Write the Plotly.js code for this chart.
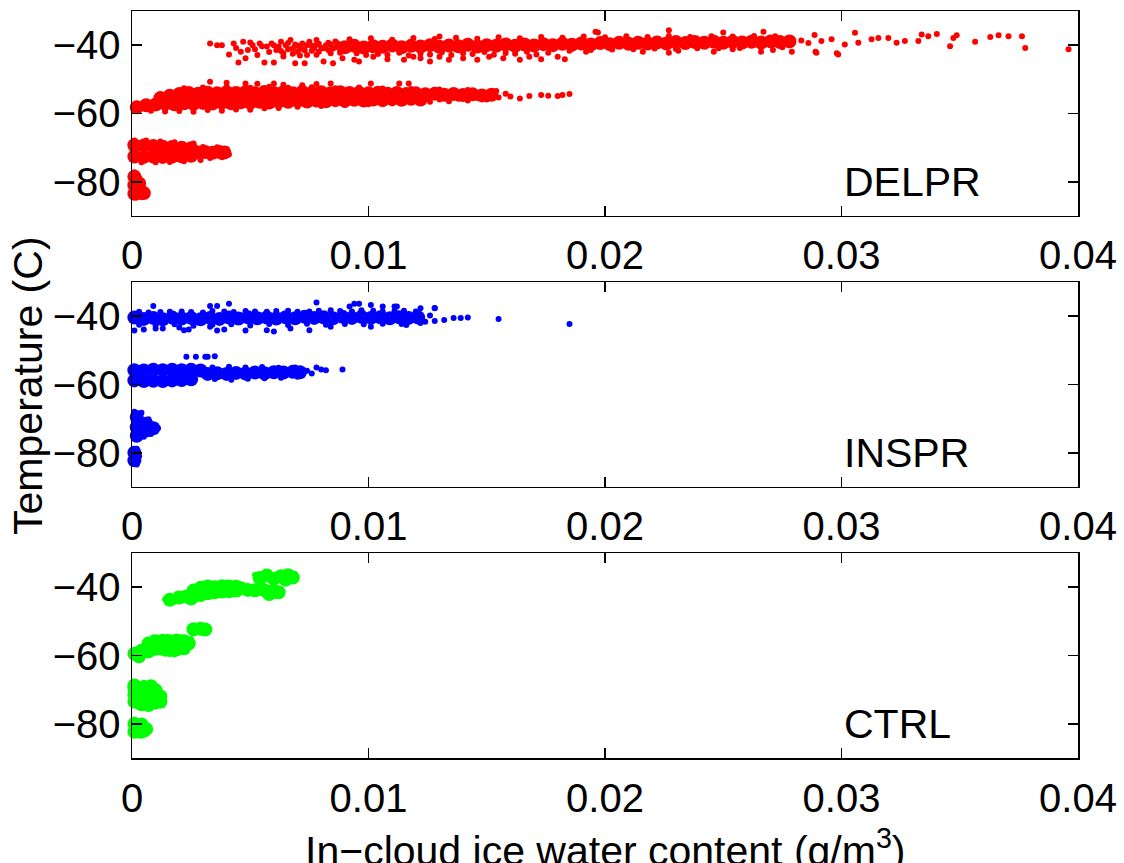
<!DOCTYPE html>
<html>
<head>
<meta charset="utf-8">
<script src="https://cdn.plot.ly/plotly-3.0.1.min.js"></script>
<style>html,body{margin:0;padding:0;background:#fff;}#chart{width:1124px;height:863px;}</style>
</head>
<body>
<div id="chart"></div>
<script>
// ---------- DATA (x = in-cloud IWC g/m3, y = temperature C) ----------
const panelNames = ["DELPR", "INSPR", "CTRL"];
const xTickVals = [0, 0.01, 0.02, 0.03, 0.04];
const yTickVals = [-80, -60, -40];

// DELPR dense cores
const delprCore = [
[0.0090,-40.6],[0.0094,-40.2],[0.0098,-40.7],[0.0102,-40.3],[0.0106,-40.5],[0.0110,-40.1],[0.0114,-40.6],[0.0118,-40.2],[0.0122,-40.4],[0.0126,-40.0],[0.0130,-40.5],[0.0134,-40.1],[0.0138,-40.3],[0.0142,-39.9],[0.0146,-40.4],[0.0150,-40.0],[0.0154,-40.2],[0.0158,-39.8],[0.0162,-40.2],[0.0166,-39.8],[0.0170,-40.1],[0.0174,-39.7],[0.0178,-40.0],[0.0182,-39.6],[0.0186,-39.9],[0.0190,-39.5],[0.0194,-39.8],[0.0198,-39.4],[0.0202,-39.7],[0.0206,-39.3],[0.0210,-39.6],[0.0214,-39.3],[0.0218,-39.5],[0.0222,-39.2],[0.0226,-39.5],[0.0230,-39.1],[0.0234,-39.4],[0.0238,-39.1],[0.0242,-39.3],[0.0246,-39.0],[0.0250,-39.3],[0.0254,-39.0],[0.0258,-39.2],[0.0262,-39.0],[0.0266,-39.2],[0.0270,-38.9],[0.0274,-39.1],[0.0278,-38.9],
[0.0012,-55.5],[0.0016,-54.8],[0.0020,-54.3],[0.0024,-54.0],[0.0028,-54.2],[0.0032,-53.9],[0.0036,-54.1],[0.0040,-53.8],[0.0044,-54.0],[0.0048,-53.8],[0.0052,-54.1],[0.0056,-53.7],[0.0060,-54.0],[0.0064,-53.8],[0.0068,-54.1],[0.0072,-53.7],[0.0076,-54.0],[0.0080,-53.8],[0.0084,-54.1],[0.0088,-53.8],[0.0092,-54.0],[0.0096,-53.9],[0.0100,-54.1],[0.0104,-53.9],[0.0108,-54.2],[0.0112,-54.0],[0.0116,-54.3],[0.0120,-54.1],[0.0124,-54.4],[0.0128,-54.2],[0.0132,-54.5],[0.0136,-54.3],[0.0140,-54.6],[0.0144,-54.4],[0.0148,-54.7],[0.0152,-54.5],
[0.0002,-58.2],[0.0006,-57.6],[0.0010,-57.4],[0.0014,-57.2],[0.0018,-57.3],[0.0022,-57.0],[0.0026,-57.2],[0.0030,-56.9],[0.0034,-57.1],[0.0038,-56.8],[0.0042,-57.0],[0.0046,-56.7],[0.0050,-56.9],[0.0054,-56.6],[0.0058,-56.8],[0.0062,-56.5],[0.0066,-56.6],[0.0070,-56.3],[0.0074,-56.5],[0.0078,-56.2],[0.0082,-56.4],[0.0086,-56.1],[0.0090,-56.3],[0.0094,-56.0],[0.0098,-56.2],[0.0102,-55.9],[0.0106,-56.1],[0.0110,-55.8],[0.0114,-56.0],[0.0118,-55.7],[0.0122,-55.9],
[0.0001,-69.3],[0.0005,-69.4],[0.0009,-69.5],[0.0013,-69.7],[0.0017,-69.8],[0.0021,-70.0],[0.0025,-70.2],
[0.0001,-72.6],[0.0005,-72.7],[0.0009,-72.6],[0.0013,-72.7],[0.0017,-72.6],[0.0021,-72.5],[0.0025,-72.4],
[0.0028,-71.4],[0.0031,-71.3],[0.0034,-71.5],[0.0037,-71.3],[0.0039,-71.4],
[0.0001,-78.5],[0.0001,-81.0],[0.0003,-82.5],[0.0001,-83.5],[0.0005,-83.3],[0.0003,-80.5]
];

// DELPR scattered points
const delprDots = [
[0.0033,-39.5],[0.0036,-40.0],[0.0038,-40.0],[0.0043,-39.5],[0.0045,-45.1],[0.0041,-42.7],[0.0047,-39.0],[0.0049,-41.4],[0.0048,-43.8],[0.0051,-40.0],[0.0053,-42.9],[0.0054,-39.5],[0.0056,-45.1],[0.0057,-40.4],[0.0060,-45.1],[0.0059,-39.5],[0.0061,-41.4],[0.0063,-39.0],[0.0064,-42.4],[0.0065,-40.0],[0.0067,-38.5],[0.0068,-40.9],[0.0069,-45.3],[0.0070,-41.9],[0.0072,-39.5],[0.0073,-45.3],[0.0074,-42.9],[0.0075,-39.0],[0.0077,-40.9],[0.0078,-38.5],[0.0079,-41.9],[0.0081,-44.8],[0.0082,-40.0],[0.0084,-42.4],[0.0085,-45.3],[0.0087,-39.5],[0.0088,-41.4],[0.0089,-43.8],
[0.0062,-40.5],[0.0066,-41.2],[0.0069,-39.8],[0.0071,-40.6],[0.0073,-41.5],[0.0076,-40.2],[0.0079,-39.6],[0.0080,-40.8],[0.0083,-41.4],[0.0084,-39.8],[0.0086,-40.6],[0.0088,-42.2],[0.0089,-40.2],[0.0064,-43.3],[0.0071,-43.0],[0.0078,-42.8],
[0.0044,-40.8],[0.0046,-41.9],[0.0050,-39.2],[0.0052,-41.2],[0.0055,-40.3],[0.0058,-42.0],[0.0060,-40.0],[0.0063,-41.7],[0.0066,-39.4],[0.0068,-42.5],[0.0070,-40.2],[0.0072,-41.1],[0.0074,-40.0],[0.0076,-41.6],[0.0078,-39.9],[0.0081,-40.9],[0.0083,-39.3],[0.0085,-41.0],[0.0087,-40.3],[0.0086,-38.9],
[0.0092,-38.3],[0.0101,-38.0],[0.0110,-38.4],[0.0119,-37.9],[0.0128,-38.2],[0.0137,-37.8],[0.0146,-38.1],[0.0155,-37.7],[0.0164,-38.0],[0.0173,-37.6],[0.0182,-37.8],[0.0191,-37.5],[0.0200,-37.7],[0.0209,-37.4],[0.0218,-37.6],[0.0227,-37.3],[0.0236,-37.6],[0.0245,-37.4],[0.0254,-37.5],[0.0263,-37.3],[0.0272,-37.4],
[0.0095,-42.4],[0.0104,-42.6],[0.0113,-42.2],[0.0122,-42.5],[0.0131,-42.1],[0.0140,-42.4],[0.0149,-42.0],[0.0158,-42.3],[0.0167,-41.9],[0.0176,-42.2],[0.0185,-41.6],[0.0194,-41.4],[0.0203,-41.3],[0.0212,-41.2],[0.0221,-41.0],[0.0230,-41.1],[0.0239,-40.9],[0.0248,-40.9],[0.0257,-40.8],[0.0266,-40.7],[0.0275,-40.6],
[0.0099,-42.9],[0.0108,-42.8],[0.0117,-43.0],[0.0126,-42.7],[0.0135,-42.9],[0.0144,-42.6],[0.0153,-42.8],[0.0162,-42.5],[0.0171,-42.7],
[0.0094,-44.3],[0.0096,-44.8],[0.0102,-43.4],[0.0108,-44.1],[0.0115,-44.3],[0.0119,-43.4],[0.0122,-43.8],[0.0126,-44.8],[0.0130,-43.4],[0.0134,-44.3],[0.0140,-43.8],[0.0146,-44.3],[0.0151,-43.4],[0.0157,-43.8],[0.0164,-44.3],[0.0168,-43.4],[0.0173,-44.1],[0.0180,-43.4],[0.0183,-44.1],
[0.0130,-37.5],[0.0196,-36.1],[0.0227,-35.6],[0.0197,-36.3],[0.0267,-36.1],[0.0250,-36.3],
[0.0192,-41.9],[0.0216,-41.9],[0.0227,-42.2],[0.0231,-41.6],[0.0246,-41.9],[0.0254,-41.2],[0.0266,-41.9],[0.0271,-41.4],[0.0279,-41.9],[0.0289,-41.9],[0.0298,-42.4],
[0.0396,-41.2],[0.03777,-40.8],[0.03763,-37.4],[0.03706,-37.4],[0.03664,-37.1],[0.03629,-37.6],[0.03565,-39.0],[0.03487,-37.1],[0.03473,-37.9],[0.03459,-40.3],[0.03403,-36.7],[0.03367,-37.4],[0.03339,-36.9],[0.03325,-38.8],[0.03268,-38.8],[0.03233,-39.3],[0.03198,-37.9],[0.03156,-37.9],[0.03127,-38.3],[0.03071,-39.3],[0.03057,-36.4],[0.03014,-39.8],[0.02986,-42.7],[0.02958,-38.3],[0.02915,-38.8],[0.02886,-37.0],[0.02894,-42.2],[0.0283,-38.6],[0.0286,-39.4],
[0.0008,-59.2],[0.0014,-59.4],[0.0020,-59.3],[0.0026,-59.5],[0.0032,-59.0],[0.0038,-59.2],[0.0044,-58.8],[0.0050,-58.9],[0.0056,-58.5],[0.0062,-58.4],[0.0070,-58.0],[0.0080,-57.8],[0.0090,-57.5],[0.0100,-57.3],[0.0110,-57.0],
[0.0126,-56.6],[0.0130,-55.9],[0.0134,-56.4],[0.0138,-55.7],[0.0142,-56.2],[0.0146,-55.5],[0.0150,-55.9],[0.0155,-55.3],[0.0158,-54.2],[0.0160,-55.0],
[0.0164,-55.6],[0.0168,-54.9],[0.0173,-54.6],[0.0176,-54.8],[0.0180,-54.9],[0.0182,-54.6],[0.0185,-54.3],
[0.0033,-50.7],[0.0040,-51.0],[0.0048,-51.2],[0.0053,-51.3],[0.0060,-51.2],[0.0064,-51.6],[0.0072,-51.7],[0.0078,-51.4],[0.0084,-51.2],[0.0101,-51.2],[0.0113,-51.2],[0.0117,-51.2],
[0.0022,-52.6],[0.0030,-52.4],[0.0040,-52.3],[0.0050,-52.5],[0.0058,-52.2],[0.0066,-52.5],[0.0076,-52.3],[0.0086,-52.6],[0.0096,-52.4],[0.0106,-52.7],[0.0118,-52.8],[0.0130,-53.0],[0.0142,-53.1],[0.0154,-53.4],
[0.0026,-68.8],[0.0030,-69.8],[0.0033,-73.0],[0.0036,-69.9],[0.0038,-72.8],[0.0040,-70.4],[0.0041,-72.0],[0.0029,-73.6],[0.0001,-67.9],[0.0006,-67.9],[0.0012,-68.2],[0.0018,-68.4],[0.0004,-74.3],[0.0010,-74.3],[0.0016,-74.2],[0.0022,-74.0],
[0.0006,-84.0],[0.0004,-84.5],[0.0002,-84.6],[0.0005,-82.0],[0.0003,-78.8],[0.0001,-77.2]
];

// INSPR dense cores
const insprCore = [
[0.0001,-40.4],[0.0005,-40.8],[0.0009,-40.5],[0.0013,-40.9],[0.0017,-40.4],[0.0021,-40.7],[0.0025,-40.5],[0.0029,-40.9],[0.0033,-40.5],[0.0037,-40.8],[0.0041,-40.4],[0.0045,-40.7],[0.0049,-40.3],[0.0053,-40.6],[0.0057,-40.4],[0.0061,-40.7],[0.0065,-40.3],[0.0069,-40.6],[0.0073,-40.2],[0.0077,-40.5],[0.0081,-40.3],[0.0085,-40.6],[0.0089,-40.2],[0.0093,-40.5],[0.0097,-40.2],[0.0101,-40.5],[0.0105,-40.3],[0.0109,-40.6],[0.0113,-40.3],[0.0117,-40.5],[0.0121,-40.4],
[0.0001,-55.8],[0.0005,-55.9],[0.0009,-55.7],[0.0013,-55.8],[0.0017,-55.7],[0.0021,-55.8],[0.0025,-55.7],[0.0029,-55.9],
[0.0001,-58.8],[0.0005,-59.0],[0.0009,-58.9],[0.0013,-59.0],[0.0017,-58.8],[0.0021,-58.7],[0.0025,-58.5],
[0.0032,-56.9],[0.0036,-56.7],[0.0040,-56.9],[0.0044,-56.6],[0.0048,-56.8],[0.0052,-56.5],[0.0056,-56.7],[0.0060,-56.4],[0.0064,-56.5],[0.0068,-56.3],[0.0071,-56.4],
[0.0002,-69.5],[0.0002,-72.5],[0.0006,-71.5],[0.0006,-73.5],[0.0002,-75.0],[0.0009,-72.8],
[0.0001,-80.0],[0.0001,-82.2]
];

// INSPR scattered points
const insprDots = [
[0.0003,-38.7],[0.0012,-38.8],[0.0021,-38.6],[0.0030,-38.9],[0.0039,-38.6],[0.0048,-38.5],[0.0057,-38.7],[0.0066,-38.4],[0.0075,-38.6],[0.0084,-38.3],[0.0093,-38.6],[0.0102,-38.4],[0.0111,-38.5],[0.0120,-38.6],
[0.0007,-38.9],[0.0016,-38.7],[0.0025,-38.8],[0.0034,-38.5],[0.0043,-38.8],[0.0052,-38.6],[0.0061,-38.5],[0.0070,-38.7],[0.0079,-38.4],[0.0088,-38.5],[0.0097,-38.3],[0.0106,-38.6],[0.0115,-38.4],
[0.0003,-42.5],[0.0010,-42.7],[0.0018,-42.4],[0.0026,-42.8],[0.0034,-42.5],[0.0042,-42.4],[0.0050,-42.7],[0.0058,-42.3],[0.0066,-42.6],[0.0074,-42.2],[0.0082,-42.5],[0.0090,-42.3],[0.0098,-42.4],[0.0106,-42.2],[0.0114,-42.3],[0.0122,-42.0],
[0.0001,-44.2],[0.0005,-43.9],[0.0010,-43.6],[0.0013,-43.6],[0.0020,-43.3],[0.0022,-44.1],[0.0024,-43.9],[0.0033,-43.1],[0.0036,-44.2],[0.0039,-43.9],[0.0048,-44.2],[0.0057,-44.1],[0.0060,-44.5],[0.0067,-43.6],[0.0075,-44.1],[0.0084,-43.1],[0.0101,-43.1],[0.0116,-42.6],
[0.0009,-37.0],[0.0033,-37.0],[0.0036,-37.0],[0.0041,-36.4],[0.0078,-36.0],[0.0092,-37.2],[0.0094,-36.4],[0.0096,-36.4],[0.0101,-36.7],[0.0106,-37.2],[0.0111,-37.2],[0.0112,-37.2],[0.0122,-37.7],[0.0128,-37.7],
[0.0124,-41.6],[0.0126,-39.8],[0.0128,-37.6],[0.0128,-41.4],[0.0132,-41.1],[0.0136,-40.5],[0.0139,-40.5],[0.0142,-40.4],[0.0155,-40.8],[0.0185,-42.3],
[0.0035,-58.4],[0.0042,-58.6],[0.0049,-58.3],[0.0056,-58.2],[0.0063,-58.0],[0.0070,-57.7],
[0.0034,-55.0],[0.0041,-54.8],[0.0048,-55.0],[0.0055,-54.9],[0.0062,-55.1],[0.0069,-55.0],
[0.0074,-56.0],[0.0076,-56.8],[0.0078,-55.0],[0.0080,-55.6],[0.0082,-55.8],[0.0089,-55.6],
[0.0023,-51.9],[0.0027,-51.9],[0.0031,-51.9],[0.0032,-51.9],[0.0035,-51.7],
[0.0011,-72.8],[0.0010,-73.5],[0.0008,-74.5],[0.0005,-75.3],[0.0001,-75.6],[0.0004,-68.3],[0.0001,-68.0],[0.0007,-70.2],
[0.0002,-78.8],[0.0002,-83.4],[0.0003,-81.0]
];

// CTRL dense cores
const ctrlCore = [
[0.0001,-80.0],[0.0004,-80.2],[0.0001,-82.3],[0.0004,-82.3],[0.0006,-81.5],
[0.0001,-69.5],[0.0004,-69.5],[0.0007,-69.5],[0.0010,-70.2],[0.0001,-71.5],[0.0004,-71.5],[0.0007,-71.5],[0.0010,-71.5],[0.0001,-73.5],[0.0004,-73.5],[0.0007,-73.5],[0.0010,-73.5],[0.0012,-73.5],[0.0012,-72.0],[0.0007,-74.5],[0.0004,-74.3],[0.0001,-68.8],[0.0008,-69.0],
[0.0001,-59.5],[0.0003,-60.2],[0.0004,-58.6],[0.0007,-56.5],[0.0007,-58.8],[0.0010,-55.8],[0.0010,-58.0],[0.0013,-55.7],[0.0013,-58.0],[0.0016,-55.8],[0.0016,-58.4],[0.0019,-55.6],[0.0019,-58.2],[0.0022,-55.8],[0.0022,-57.9],[0.0024,-56.5],
[0.0026,-52.3],[0.0029,-52.2],[0.0031,-52.4],
[0.0016,-43.7],[0.0020,-43.0],[0.0023,-42.7],[0.0025,-43.3],
[0.0026,-41.0],[0.0029,-40.2],[0.0029,-42.3],[0.0032,-39.8],[0.0032,-41.8],[0.0035,-40.0],[0.0035,-41.5],[0.0038,-39.7],[0.0038,-41.3],[0.0041,-39.8],[0.0041,-41.2],[0.0044,-39.9],[0.0044,-41.0],[0.0046,-40.3],
[0.0049,-40.8],[0.0052,-40.9],[0.0055,-40.6],[0.0057,-41.3],[0.0060,-41.0],[0.0062,-41.5],[0.0058,-42.0],
[0.0054,-37.3],[0.0057,-36.6],[0.0060,-37.5],[0.0063,-36.8],[0.0066,-36.5],[0.0068,-37.2],[0.0065,-37.8]
];

// CTRL scattered points
const ctrlDots = [
[0.0014,-43.5],[0.0018,-44.3],[0.0019,-42.0],[0.0027,-43.6],[0.0030,-39.0],[0.0040,-38.7],[0.0045,-42.0],[0.0047,-39.5],[0.0063,-42.3],[0.0061,-42.6],[0.0069,-36.2],[0.0052,-36.4],
[0.0009,-54.7],[0.0015,-54.6],[0.0021,-54.7],[0.0025,-55.2],[0.0003,-61.2],[0.0014,-59.5],[0.0018,-59.7],[0.0028,-53.0],
[0.0001,-67.9],[0.0005,-68.0],[0.0013,-74.5],[0.0010,-75.0],[0.0005,-75.0],
[0.0001,-79.1],[0.0003,-83.4],[0.0006,-83.0]
];

// ---------- CHART ----------
const colors = ["#ff0000", "#0000ff", "#00ff00"];
const cores = [delprCore, insprCore, ctrlCore];
const dots = [delprDots, insprDots, ctrlDots];
const axSuffix = ["", "2", "3"];

const traces = [];
for (let i = 0; i < 3; i++) {
  [[dots[i], 6], [cores[i], 14]].forEach(([pts, sz]) => {
    traces.push({
      type: "scatter", mode: "markers",
      x: pts.map(p => p[0]), y: pts.map(p => p[1]),
      xaxis: "x" + axSuffix[i], yaxis: "y" + axSuffix[i],
      marker: { color: colors[i], size: sz, line: { width: 0 } },
      cliponaxis: false, showlegend: false, hoverinfo: "skip"
    });
  });
}

const font = { family: "Liberation Sans, Arial, Helvetica, sans-serif", color: "#000" };
const axisBase = {
  showline: true, linecolor: "#000", linewidth: 1.5, mirror: "ticks",
  ticks: "inside", ticklen: 10, tickwidth: 1.5, tickcolor: "#000",
  showgrid: false, zeroline: false,
  tickfont: Object.assign({ size: 40 }, font)
};
const domains = [[0.7256, 1], [0.3628, 0.6372], [0, 0.2744]];
const layout = {
  width: 1124, height: 863,
  margin: { l: 132, r: 46, t: 11, b: 105 },
  paper_bgcolor: "#fff", plot_bgcolor: "#fff",
  showlegend: false,
  annotations: []
};
for (let i = 0; i < 3; i++) {
  layout["xaxis" + axSuffix[i]] = Object.assign({}, axisBase, {
    range: [0, 0.04], tickvals: xTickVals, ticktext: xTickVals.map(v => String(v)),
    anchor: "y" + axSuffix[i], domain: [0, 1], ticklabelstandoff: 4
  });
  layout["yaxis" + axSuffix[i]] = Object.assign({}, axisBase, {
    range: [-90, -30], tickvals: yTickVals, ticktext: yTickVals.map(v => "\u2212" + Math.abs(v)),
    anchor: "x" + axSuffix[i], domain: domains[i], ticklabelstandoff: 2
  });
  layout.annotations.push({
    text: panelNames[i], x: 0.03, y: -80,
    xref: "x" + axSuffix[i], yref: "y" + axSuffix[i],
    xanchor: "left", yanchor: "middle", showarrow: false,
    font: Object.assign({ size: 41 }, font)
  });
}
layout.annotations.push({
  text: "In\u2212cloud ice water content (g/m<sup>3</sup>)",
  xref: "paper", yref: "paper", x: 0.5, y: -0.083, xanchor: "center", yanchor: "top",
  showarrow: false, font: Object.assign({ size: 41 }, font)
});
layout.annotations.push({
  text: "Temperature (C)", textangle: -90,
  xref: "paper", yref: "paper", x: -0.110, y: 0.498, xanchor: "center", yanchor: "middle",
  showarrow: false, font: Object.assign({ size: 41 }, font)
});

Plotly.newPlot("chart", traces, layout, { staticPlot: true, displayModeBar: false });
</script>
</body>
</html>
